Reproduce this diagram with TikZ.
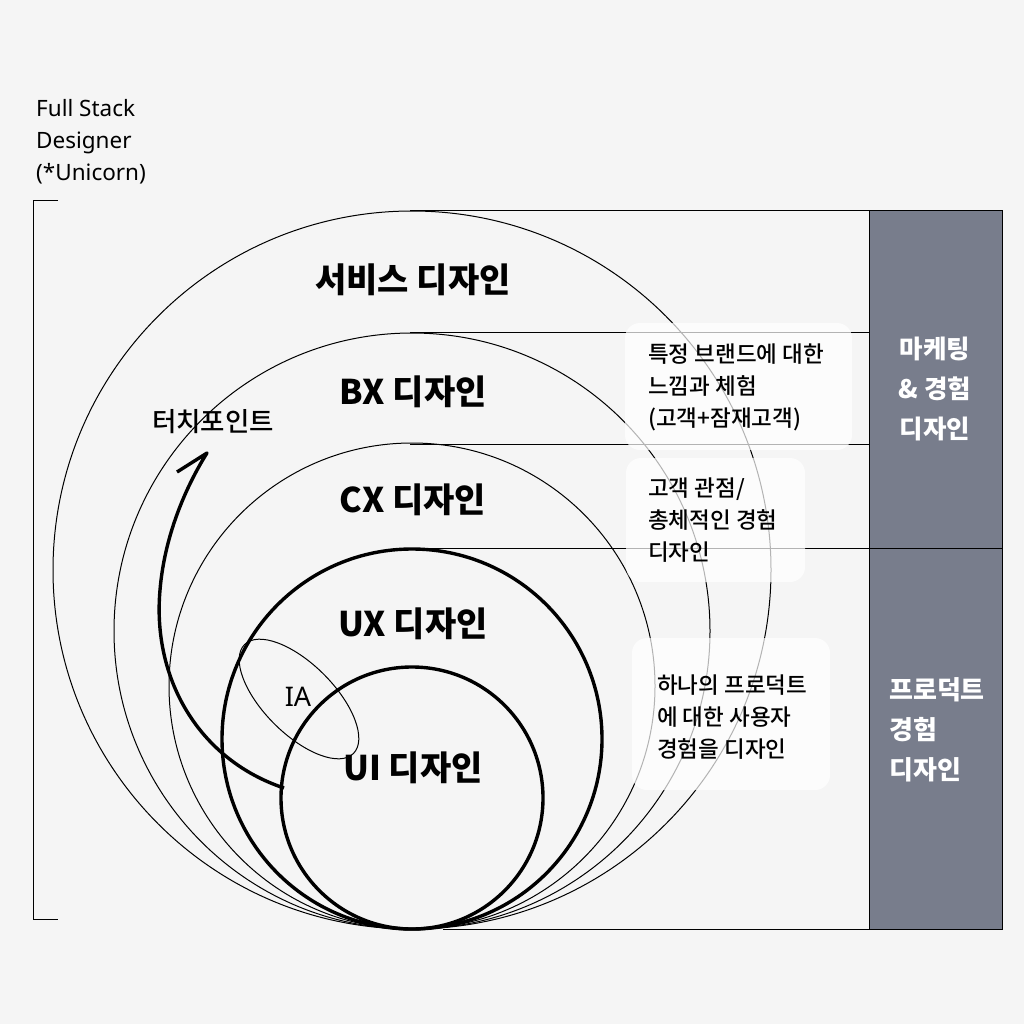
\documentclass[tikz,border=0pt]{standalone}
\usepackage{fontspec}
\setmainfont{Noto Sans CJK KR}
\newfontfamily\medfont{Noto Sans CJK KR Medium}
\newfontfamily\latinsans{Noto Sans}
\usepackage{tikz}

\definecolor{bgpaper}{HTML}{F5F5F5}
\definecolor{sidegray}{HTML}{787D8C}

\begin{document}
\begin{tikzpicture}[x=1pt,y=-1pt,
  thin circ/.style={line width=1pt},
  thick circ/.style={line width=3.4pt},
  title/.style={font=\fontsize{34}{38}\selectfont\bfseries},
  note/.style={align=left, anchor=west, inner sep=0pt, font=\medfont\fontsize{22.5}{32}\selectfont},
  notebox/.style={fill=white, fill opacity=0.7, draw=none, rounded corners=15pt},
  side/.style={text=white, inner sep=0pt, font=\fontsize{26}{40}\selectfont\bfseries}]
\fill [bgpaper] (0,0) rectangle (1024,1024);
\useasboundingbox (0,0) rectangle (1024,1024);
% bracket
\draw [line width=1pt] (58,201) -- (33,201) -- (33,919) -- (58,919);
\node [note, font=\latinsans\fontsize{22.5}{32}\selectfont] (fullstack) at (36,142) {Full Stack\\Designer\\(*Unicorn)};
% right column
\draw [line width=1pt, fill=sidegray] (869,211) rectangle (1002,929);
\draw [line width=1pt] (869,548) -- (1002,548);
% level lines
\draw [line width=1pt] (410,211) -- (869,211);
\draw [line width=1pt] (410,332) -- (869,332);
\draw [line width=1pt] (410,444) -- (869,444);
\draw [line width=1pt] (410,548) -- (869,548);
\draw [line width=1pt] (443,929) -- (869,929);
% circles, all touching at the bottom
\draw [thin circ] (412,570) circle [radius=359pt];
\draw [thin circ] (412,631) circle [radius=298pt];
\draw [thin circ] (412,686) circle [radius=243pt];
\draw [thick circ] (412,739) circle [radius=190pt];
\draw [thick circ] (412,798) circle [radius=131pt];
% IA
\draw [thin circ] (299,699) ellipse [x radius=77pt, y radius=35pt, rotate=-45];
\node [font=\latinsans\fontsize{27}{30}\selectfont] (ia) at (298,697) {IA};
% touchpoint arrow
\draw [line width=3.4pt, line join=round] (284,788) .. controls (200,760) and (152,680) .. (160,590)
  .. controls (165,530) and (190,480) .. (207,453) -- (177,472);
\node [font=\medfont\fontsize{26.5}{30}\selectfont] (touch) at (213,422) {터치포인트};
% titles
\node [title] (service) at (413,280) {서비스 디자인};
\node [title] (bx) at (413,392) {BX 디자인};
\node [title] (cx) at (413,500) {CX 디자인};
\node [title] (ux) at (413,624) {UX 디자인};
\node [title] (ui) at (413,768) {UI 디자인};
% notes
\fill [notebox] (625,323) rectangle (852,450);
\fill [notebox] (626,458) rectangle (805,582);
\fill [notebox] (632,638) rectangle (830,790);
\node [note] (bxnote) at (648,387) {특정 브랜드에 대한\\느낌과 체험\\(고객+잠재고객)};
\node [note] (cxnote) at (648,520) {고객 관점/\\총체적인 경험\\디자인};
\node [note] (uxnote) at (657,717) {하나의 프로덕트\\에 대한 사용자\\경험을 디자인};
\node [side, align=center, font=\fontsize{25.5}{40}\selectfont\bfseries] (marketing) at (935,389) {마케팅\\\& 경험\\디자인};
\node [side, align=left, anchor=west] (product) at (889,730) {프로덕트\\경험\\디자인};
\end{tikzpicture}
\end{document}
